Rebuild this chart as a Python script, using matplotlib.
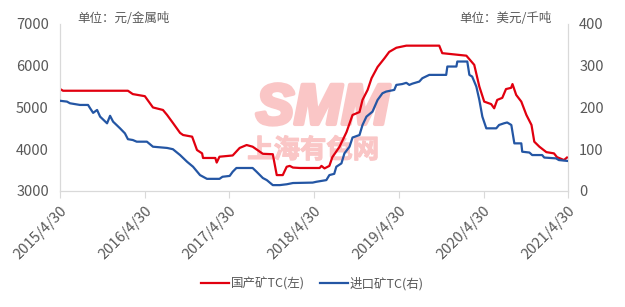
import pandas as pd
import matplotlib
matplotlib.use('Agg')
import matplotlib.pyplot as plt
import matplotlib.patheffects as pe

plt.rcParams['font.family'] = ['Noto Sans CJK SC', 'DejaVu Sans']

# 国产矿TC (左轴, 元/金属吨)
dom_dates = ['2015-04-30', '2015-05-13', '2016-02-17', '2016-03-09', '2016-04-30', '2016-06-04',
             '2016-07-17', '2016-08-04', '2016-08-29', '2016-09-29', '2016-10-12', '2016-11-20',
             '2016-12-11', '2017-01-02', '2017-01-06', '2017-02-28', '2017-03-06', '2017-03-18',
             '2017-05-14', '2017-06-13', '2017-07-13', '2017-08-08', '2017-09-21', '2017-11-03',
             '2017-11-20', '2017-12-16', '2018-01-02', '2018-01-15', '2018-01-29', '2018-02-28',
             '2018-05-24', '2018-06-01', '2018-06-14', '2018-07-05', '2018-07-18', '2018-08-17',
             '2018-09-17', '2018-10-13', '2018-11-12', '2018-11-25', '2018-12-17', '2019-01-03',
             '2019-01-29', '2019-02-28', '2019-03-20', '2019-04-20', '2019-06-02', '2019-10-22',
             '2019-11-04', '2020-02-16', '2020-03-21', '2020-04-12', '2020-05-03', '2020-06-02',
             '2020-06-15', '2020-06-28', '2020-07-20', '2020-08-05', '2020-08-27', '2020-09-02',
             '2020-09-18', '2020-10-10', '2020-11-01', '2020-11-23', '2020-12-05', '2020-12-27',
             '2021-01-26', '2021-02-28', '2021-03-13', '2021-04-12', '2021-04-25']
dom_tc = [5443, 5400, 5400, 5320, 5270, 5000,
          4940, 4820, 4630, 4390, 4340, 4300,
          3980, 3900, 3790, 3790, 3680, 3820,
          3850, 4030, 4100, 4060, 3890, 3880,
          3380, 3380, 3580, 3600, 3560, 3550,
          3550, 3600, 3540, 3600, 3810, 4050,
          4410, 4820, 4890, 5180, 5420, 5700,
          5970, 6180, 6330, 6430, 6480, 6480,
          6300, 6240, 6020, 5500, 5140, 5080,
          4980, 5180, 5230, 5440, 5470, 5560,
          5300, 5140, 4820, 4580, 4180, 4060,
          3930, 3900, 3810, 3740, 3800]

# 进口矿TC (右轴, 美元/千吨)
imp_dates = ['2015-04-30', '2015-05-30', '2015-06-12', '2015-07-25', '2015-08-29', '2015-09-07',
             '2015-09-20', '2015-10-07', '2015-10-20', '2015-11-19', '2015-12-02', '2015-12-15',
             '2016-01-14', '2016-02-04', '2016-02-17', '2016-03-09', '2016-03-26', '2016-05-09',
             '2016-06-04', '2016-08-04', '2016-08-29', '2016-09-29', '2016-10-29', '2016-11-24',
             '2016-12-24', '2017-01-23', '2017-03-18', '2017-03-31', '2017-05-01', '2017-05-14',
             '2017-05-30', '2017-08-08', '2017-08-25', '2017-09-21', '2017-10-08', '2017-11-03',
             '2017-12-03', '2018-01-02', '2018-01-29', '2018-04-24', '2018-05-10', '2018-06-22',
             '2018-07-05', '2018-07-26', '2018-08-04', '2018-08-26', '2018-09-08', '2018-09-30',
             '2018-10-13', '2018-11-12', '2018-11-25', '2018-12-12', '2019-01-07', '2019-01-29',
             '2019-02-19', '2019-03-07', '2019-04-11', '2019-04-20', '2019-05-15', '2019-06-02',
             '2019-06-15', '2019-06-28', '2019-07-28', '2019-08-10', '2019-09-09', '2019-11-21',
             '2019-11-26', '2020-01-04', '2020-01-08', '2020-02-20', '2020-02-29', '2020-03-12',
             '2020-03-30', '2020-04-12', '2020-04-25', '2020-05-12', '2020-06-24', '2020-07-06',
             '2020-07-27', '2020-08-10', '2020-08-28', '2020-09-10', '2020-10-10', '2020-10-14',
             '2020-11-14', '2020-11-26', '2021-01-08', '2021-01-17', '2021-03-09', '2021-03-21',
             '2021-04-25']
imp_tc = [216, 214, 210, 206, 206, 198,
          187, 194, 178, 162, 180, 166,
          150, 138, 124, 122, 118, 118,
          106, 103, 100, 86, 70, 58,
          38, 29, 29, 34, 36, 46,
          55, 55, 46, 31, 26, 14,
          14, 16, 19, 20, 22, 26,
          38, 41, 58, 66, 90, 106,
          128, 134, 158, 178, 190, 218,
          234, 238, 242, 254, 256, 259,
          254, 257, 262, 270, 278, 278,
          298, 298, 310, 310, 278, 274,
          250, 218, 178, 150, 150, 158,
          162, 164, 158, 114, 114, 94,
          92, 86, 86, 80, 78, 74,
          72]

tick_dates = ['2015-04-30', '2016-04-30', '2017-04-30', '2018-04-30',
              '2019-04-30', '2020-04-30', '2021-04-30']
tick_labels = ['2015/4/30', '2016/4/30', '2017/4/30', '2018/4/30',
               '2019/4/30', '2020/4/30', '2021/4/30']

red = '#E1000F'
blue = '#2456A4'
grey = '#595959'
spine_c = '#D9D9D9'
wm = '#FAC6C6'

fig = plt.figure(figsize=(6.25, 3.07), dpi=100)
ax = fig.add_axes([0.096, 0.378, 0.813, 0.544])
ax2 = ax.twinx()

# watermark, kept under the lines
ax.text(0.516, 0.645, 'SMM', color=wm, fontsize=41, fontweight='bold',
        fontstyle='italic', ha='center', va='center', family=['Liberation Sans'],
        transform=fig.transFigure, zorder=0,
        path_effects=[pe.withStroke(linewidth=3, foreground=wm)])
ax.text(0.501, 0.51, '上海有色网', color=wm, fontsize=19, fontweight='bold',
        ha='center', va='center', transform=fig.transFigure, zorder=0,
        path_effects=[pe.withStroke(linewidth=0.8, foreground=wm)])

ax.plot(pd.to_datetime(dom_dates), dom_tc, color=red, lw=1.6, label='国产矿TC(左)', zorder=3)
ax2.plot(pd.to_datetime(imp_dates), imp_tc, color=blue, lw=1.6, label='进口矿TC(右)', zorder=3)

ax.set_ylim(3000, 7000)
ax.set_yticks([3000, 4000, 5000, 6000, 7000])
ax2.set_ylim(0, 400)
ax2.set_yticks([0, 100, 200, 300, 400])
ticks = pd.to_datetime(tick_dates)
ax.set_xlim(ticks[0], ticks[-1])
ax.set_xticks(ticks)
ax.set_xticklabels(tick_labels, rotation=45, ha='right', rotation_mode='anchor')

for a in (ax, ax2):
    a.patch.set_visible(False)
    a.spines['top'].set_visible(False)
    for s in ('left', 'right', 'bottom'):
        a.spines[s].set_color(spine_c)
    a.tick_params(colors=grey, labelsize=10.5, length=0)
    a.tick_params(axis='y', pad=8)
ax.tick_params(axis='x', length=5, color=spine_c, direction='out', pad=4, labelsize=10.5)

fig.text(0.123, 0.94, '单位：元/金属吨', color=grey, fontsize=9, ha='left', va='center')
fig.text(0.882, 0.94, '单位：美元/千吨', color=grey, fontsize=9, ha='right', va='center')

h1, l1 = ax.get_legend_handles_labels()
h2, l2 = ax2.get_legend_handles_labels()
fig.legend(h1 + h2, l1 + l2, loc='center', bbox_to_anchor=(0.5, 0.075), ncol=2,
           frameon=False, fontsize=9, handlelength=2.2, columnspacing=1.2,
           handletextpad=0.2, labelcolor=grey)

fig.savefig('out.png', dpi=100)
